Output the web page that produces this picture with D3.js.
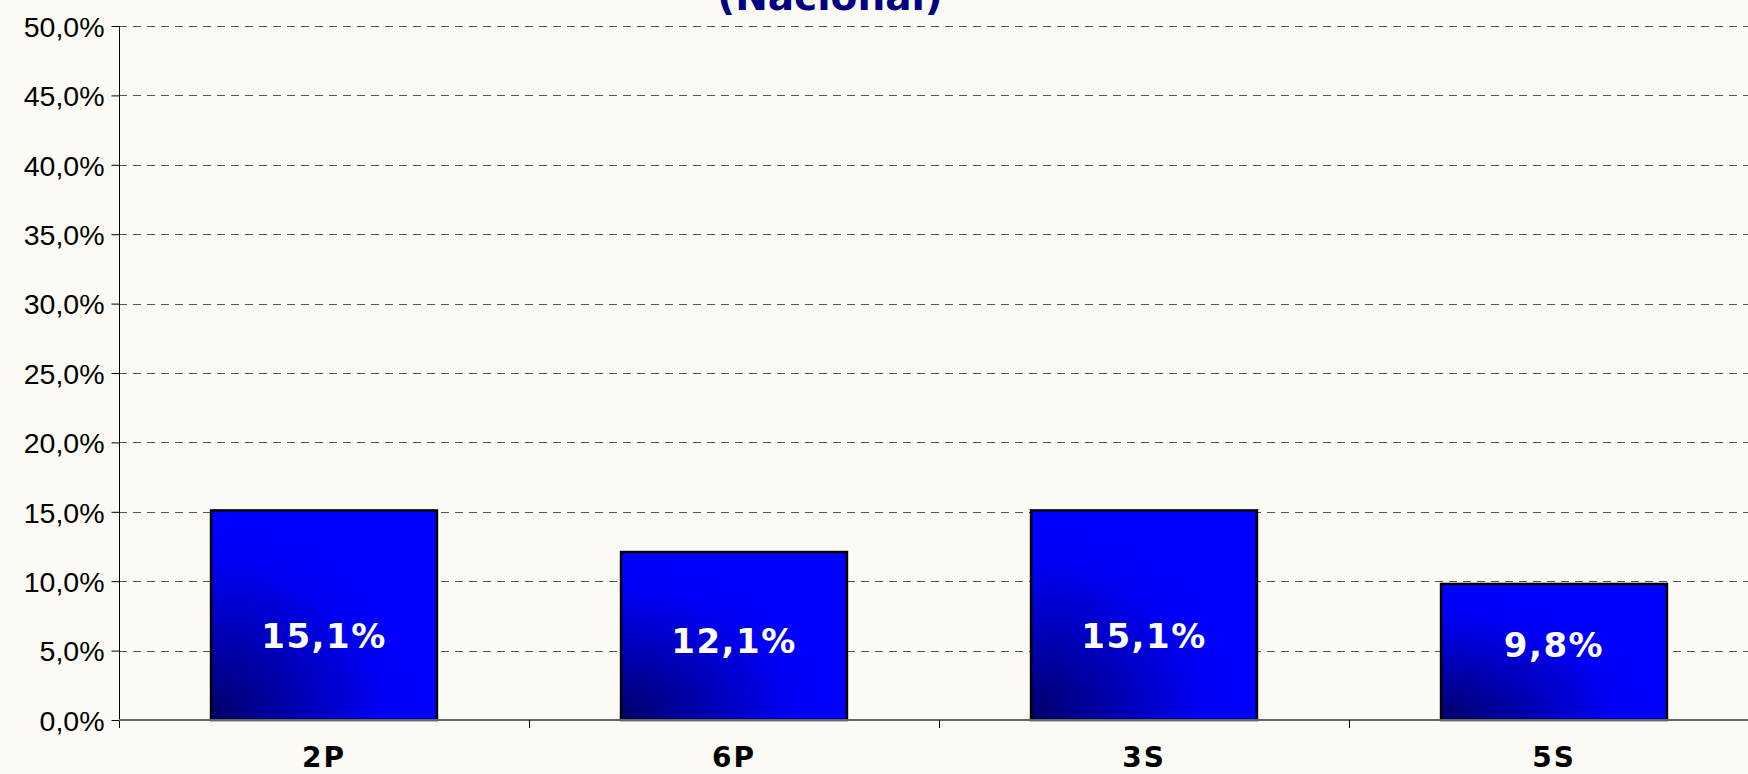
<!DOCTYPE html>
<html>
<head>
<meta charset="utf-8">
<script src="https://cdn.jsdelivr.net/npm/d3@7"></script>
<style>
  body { margin: 0; background: #fbfaf5; overflow: hidden; }
  svg { display: block; }
  .yLabel { font-family: "Liberation Sans", Arial, sans-serif; font-size: 28.5px; fill: #000; }
  .xLabel { font-family: "DejaVu Sans", Verdana, sans-serif; font-weight: bold; font-size: 28px; fill: #000; letter-spacing: 2px; }
  .barLabel { font-family: "DejaVu Sans", Verdana, sans-serif; font-weight: bold; font-size: 34px; fill: #fff; letter-spacing: 1.5px; }
  .title { font-family: "DejaVu Sans", Verdana, sans-serif; font-weight: bold; font-size: 39px; fill: #000080; }
</style>
</head>
<body>
<svg id="chart-svg" width="1748" height="774"></svg>
<script>
var categories = ["2P", "6P", "3S", "5S"];
var values = [15.1, 12.1, 15.1, 9.8];
var value_labels = ["15,1%", "12,1%", "15,1%", "9,8%"];
var y_ticks = [0, 5, 10, 15, 20, 25, 30, 35, 40, 45, 50];
var title_text = "(Nacional)";

var svg_chart = d3.select("#chart-svg");
var margin = { left: 119, right: -11, top: 26, bottom: 54 };
var w = 1748, h = 774;

var x = d3.scaleBand()
          .domain(categories)
          .range([margin.left, w - margin.right])
          .paddingInner(0.449)
          .paddingOuter(0.2245);
var y = d3.scaleLinear()
          .domain([0, 50])
          .range([h - margin.bottom, margin.top]);

// Gradient for bars
var defs = svg_chart.append("defs");
var grad = defs.append("radialGradient")
               .attr("id", "barGrad")
               .attr("cx", 0).attr("cy", 1).attr("r", 0.95)
               .attr("fx", 0).attr("fy", 1);
grad.append("stop").attr("offset", "0%").attr("stop-color", "#000068");
grad.append("stop").attr("offset", "35%").attr("stop-color", "#0000a8");
grad.append("stop").attr("offset", "80%").attr("stop-color", "#0000f4");
grad.append("stop").attr("offset", "100%").attr("stop-color", "#0000ff");

// Gridlines
svg_chart.selectAll(".grid")
         .data(y_ticks.filter(function(d) { return d > 0; }))
         .enter()
         .append("line")
         .attr("class", "grid")
         .attr("x1", margin.left)
         .attr("x2", w)
         .attr("y1", function(d) { return Math.round(y(d)) + 0.5; })
         .attr("y2", function(d) { return Math.round(y(d)) + 0.5; })
         .style("stroke", "#555")
         .style("stroke-width", 1)
         .style("stroke-dasharray", "8,6");

// Y axis
var yAxis = d3.axisLeft(y)
              .tickValues(y_ticks)
              .tickSize(8)
              .tickPadding(7)
              .tickFormat(function(d) { return d3.format(".1f")(d).replace(".", ",") + "%"; });
var gy = svg_chart.append("g")
                  .attr("transform", "translate(" + (margin.left + 0.5) + ",0)")
                  .call(yAxis);
gy.select(".domain").remove();
gy.selectAll("line").style("stroke", "#000");
gy.selectAll("text").attr("class", "yLabel").attr("dy", "0.36em");
svg_chart.append("line")
         .attr("x1", margin.left + 0.5).attr("x2", margin.left + 0.5)
         .attr("y1", y(50)).attr("y2", y(0) + 8)
         .style("stroke", "#000");

// Bars
svg_chart.selectAll(".bar")
         .data(values)
         .enter()
         .append("rect")
         .attr("class", "bar")
         .attr("x", function(d, i) { return x(categories[i]); })
         .attr("y", function(d) { return y(d); })
         .attr("width", x.bandwidth())
         .attr("height", function(d) { return y(0) - y(d); })
         .style("fill", "url(#barGrad)")
         .style("stroke", "#000")
         .style("stroke-width", 2.5);

// X axis line and category ticks
svg_chart.append("line")
         .attr("x1", margin.left).attr("x2", w)
         .attr("y1", y(0)).attr("y2", y(0))
         .style("stroke", "#666")
         .style("stroke-width", 2);
var step = x.step();
svg_chart.selectAll(".xTick")
         .data(d3.range(1, categories.length))
         .enter()
         .append("line")
         .attr("class", "xTick")
         .attr("x1", function(d) { return margin.left + step * d + 0.5; })
         .attr("x2", function(d) { return margin.left + step * d + 0.5; })
         .attr("y1", y(0)).attr("y2", y(0) + 8)
         .style("stroke", "#000");

// Category labels
svg_chart.selectAll(".xLabel")
         .data(categories)
         .enter()
         .append("text")
         .attr("class", "xLabel")
         .attr("x", function(d) { return x(d) + x.bandwidth() / 2; })
         .attr("y", y(0) + 47)
         .attr("text-anchor", "middle")
         .text(function(d) { return d; });

// Value labels inside bars
svg_chart.selectAll(".barLabel")
         .data(values)
         .enter()
         .append("text")
         .attr("class", "barLabel")
         .attr("x", function(d, i) { return x(categories[i]) + x.bandwidth() / 2; })
         .attr("y", function(d) { return y(4.3 + 0.115 * d); })
         .attr("dy", "0.36em")
         .attr("text-anchor", "middle")
         .text(function(d, i) { return value_labels[i]; });

// Title (mostly off the top of the picture)
svg_chart.append("text")
         .attr("class", "title")
         .attr("x", 830)
         .attr("y", 10)
         .attr("text-anchor", "middle")
         .text(title_text);
</script>
</body>
</html>
